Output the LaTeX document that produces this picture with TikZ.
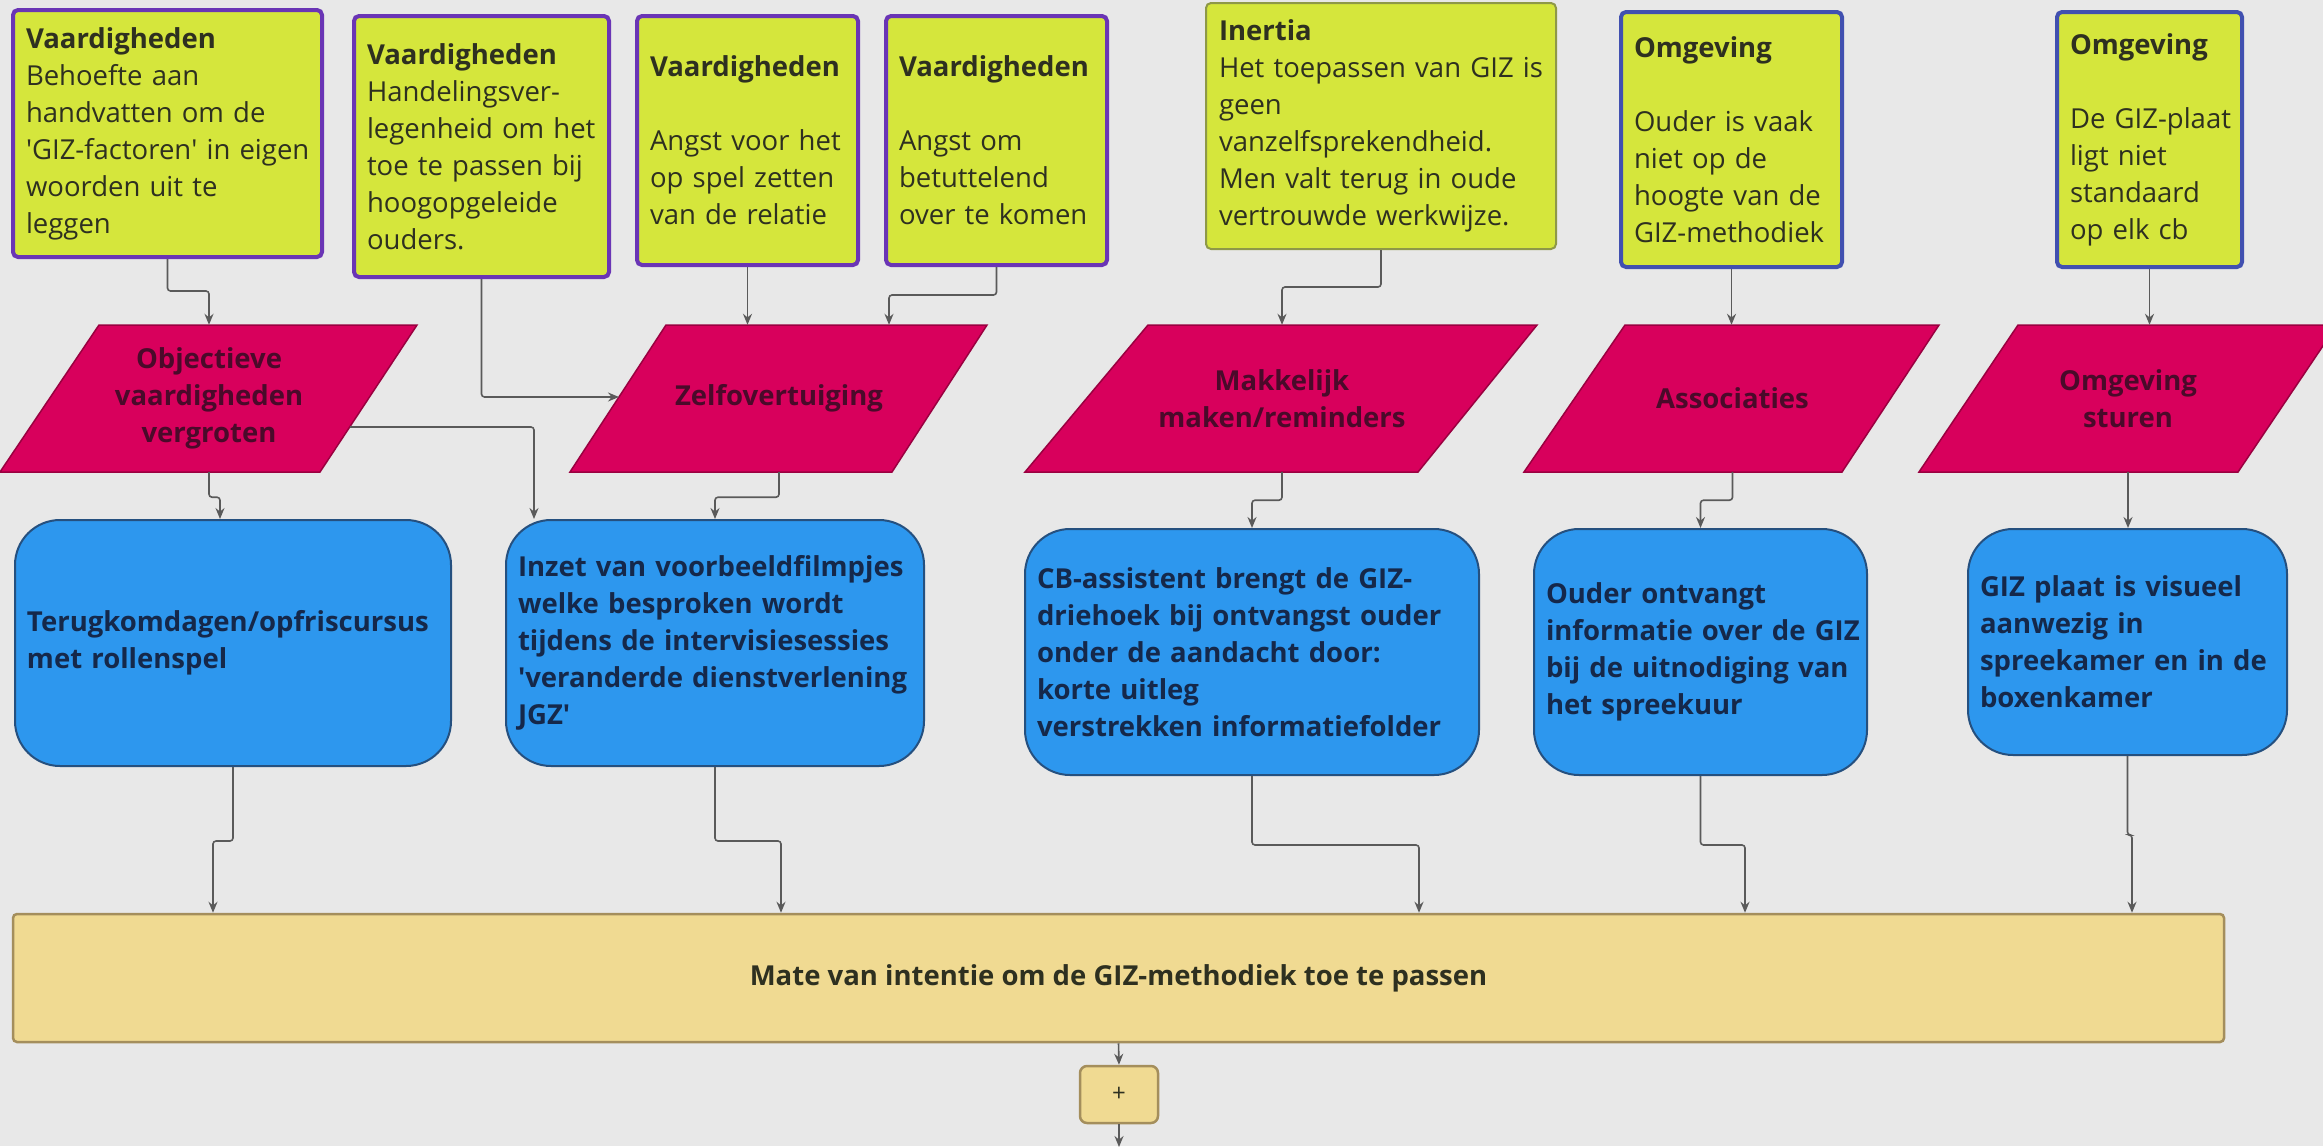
\documentclass[tikz,border=0pt]{standalone}
\usepackage{fontspec}
\setmainfont{Open Sans}
\usetikzlibrary{calc,arrows.meta}
\definecolor{bg}{HTML}{E8E8E8}
\definecolor{ylime}{HTML}{D5E63C}
\definecolor{vpurple}{HTML}{6A35B5}
\definecolor{oblue}{HTML}{4150B0}
\definecolor{iolive}{HTML}{8E9848}
\definecolor{ytext}{HTML}{2E3020}
\definecolor{pmag}{HTML}{D8005C}
\definecolor{pborder}{HTML}{9A0040}
\definecolor{ptext}{HTML}{4A0A2A}
\definecolor{bblue}{HTML}{2D97EE}
\definecolor{bborder}{HTML}{25507F}
\definecolor{btext}{HTML}{15284A}
\definecolor{khaki}{HTML}{F0DA92}
\definecolor{kborder}{HTML}{A48E5C}
\definecolor{arrc}{HTML}{5A5A5A}
\newcommand\myfs{\fontsize{27.5}{37}\selectfont\exhyphenpenalty=10000\hyphenpenalty=10000\relax}
\newcommand\sq{\textquotesingle}
\begin{document}
\begin{tikzpicture}[x=1pt,y=-1pt,
  ybox/.style={draw=vpurple, line width=4pt, fill=ylime, rounded corners=5pt,
    inner xsep=13pt, inner ysep=0pt, align=left, font=\myfs, text=ytext},
  obox/.style={ybox, draw=oblue},
  ibox/.style={ybox, draw=iolive, line width=2pt},
  bbox/.style={draw=bborder, line width=2pt, fill=bblue, rounded corners=45pt,
    inner xsep=12pt, inner ysep=0pt, align=left, font=\myfs\bfseries, text=btext},
  ptxt/.style={inner sep=0pt, minimum height=147pt, align=center, font=\myfs\bfseries, text=ptext},
  pshape/.style={fill=pmag, draw=pborder, line width=1.5pt},
  mbox/.style={draw=kborder, line width=2.5pt, fill=khaki, rounded corners=4pt,
    inner sep=0pt, font=\myfs\bfseries, text=ytext},
  plusbox/.style={mbox, rounded corners=7pt, font=\fontsize{24}{28}\selectfont},
  arr/.style={draw=arrc, line width=1.6pt, rounded corners=3pt,
    -{Stealth[length=11pt,width=9pt]}}
]
\clip (0,0) rectangle (2323,1146);
\fill[bg] (0,0) rectangle (2323,1146);

% top boxes
\node[ybox, minimum width=309pt, minimum height=247pt, text width=283pt] (v1) at (167.5,133.5)
  {\textbf{Vaardigheden}\\ Behoefte~aan\\ handvatten~om~de\\ \sq GIZ-factoren\sq~in~eigen\\ woorden~uit~te\\ leggen};
\node[ybox, minimum width=255pt, minimum height=261pt, text width=229pt] (v2) at (481.5,146.5)
  {\textbf{Vaardigheden}\\ Handelingsver-\\ legenheid~om~het\\ toe~te~passen~bij\\ hoogopgeleide\\ ouders.};
\node[ybox, minimum width=221pt, minimum height=249pt, text width=195pt] (v3) at (747.5,140.5)
  {\textbf{Vaardigheden}\\[37pt] Angst~voor~het\\ op~spel~zetten\\ van~de~relatie};
\node[ybox, minimum width=221pt, minimum height=249pt, text width=195pt] (v4) at (996.5,140.5)
  {\textbf{Vaardigheden}\\[37pt] Angst~om\\ betuttelend\\ over~te~komen};
\node[ibox, minimum width=350pt, minimum height=246pt, text width=324pt] (i1) at (1381,126)
  {\textbf{Inertia}\\ Het~toepassen~van~GIZ~is\\ geen\\ vanzelfsprekendheid.\\ Men~valt~terug~in~oude\\ vertrouwde~werkwijze.};
\node[obox, minimum width=221pt, minimum height=255pt, text width=195pt] (o1) at (1731.5,139.5)
  {\textbf{Omgeving}\\[37pt] Ouder~is~vaak\\ niet~op~de\\ hoogte~van~de\\ GIZ-methodiek};
\node[obox, minimum width=185pt, minimum height=255pt, text width=159pt] (o2) at (2149.5,139.5)
  {\textbf{Omgeving}\\[37pt] De~GIZ-plaat\\ ligt~niet\\ standaard\\ op~elk~cb};

% parallelograms
\draw[pshape] (99,325) -- (417,325) -- (320,472) -- (0,472) -- cycle;
\draw[pshape] (666,325) -- (987,325) -- (892,472) -- (570,472) -- cycle;
\draw[pshape] (1148,325) -- (1537,325) -- (1418,472) -- (1025,472) -- cycle;
\draw[pshape] (1625,325) -- (1939,325) -- (1842,472) -- (1524,472) -- cycle;
\draw[pshape] (2018,325) -- (2337,325) -- (2238,472) -- (1919,472) -- cycle;
\node[ptxt] (p1) at (209,398.5) {Objectieve\\ vaardigheden\\ vergroten};
\node[ptxt] (p2) at (779,398.5) {Zelfovertuiging};
\node[ptxt] (p3) at (1282,398.5) {Makkelijk\\ maken/reminders};
\node[ptxt] (p4) at (1732.5,398.5) {Associaties};
\node[ptxt] (p5) at (2128,398.5) {Omgeving\\ sturen};

% blue boxes
\node[bbox, minimum width=436pt, minimum height=246pt, text width=412pt] (b1) at (233,643)
  {Terugkomdagen/opfriscursus\\ met~rollenspel};
\node[bbox, minimum width=418pt, minimum height=246pt, text width=394pt] (b2) at (715,643)
  {Inzet~van~voorbeeldfilmpjes\\ welke~besproken~wordt\\ tijdens~de~intervisiesessies\\ \sq veranderde~dienstverlening\\ JGZ\sq};
\node[bbox, minimum width=454pt, minimum height=246pt, text width=430pt] (b3) at (1252,652)
  {CB-assistent~brengt~de~GIZ-\\ driehoek~bij~ontvangst~ouder\\ onder~de~aandacht~door:\\ korte~uitleg\\ verstrekken~informatiefolder};
\node[bbox, minimum width=333pt, minimum height=246pt, text width=309pt] (b4) at (1700.5,652)
  {Ouder~ontvangt\\ informatie~over~de~GIZ\\ bij~de~uitnodiging~van\\ het~spreekuur};
\node[bbox, minimum width=319pt, minimum height=226pt, text width=295pt] (b5) at (2127.5,642)
  {GIZ~plaat~is~visueel\\ aanwezig~in\\ spreekamer~en~in~de\\ boxenkamer};

% bottom
\node[mbox, minimum width=2211pt, minimum height=128pt] (m) at (1118.5,978)
  {Mate van intentie om de GIZ-methodiek toe te passen};
\node[plusbox, minimum width=78pt, minimum height=57pt] (plus) at (1119,1094.5) {+};
\coordinate (out) at (1119,1147);

% connectors
\draw[arr] (v1.south) -- ++(0,32) -| (p1.north);
\draw[arr] (v2.south) |- ($(p2.center)+(-160,-1.5)$);
\draw[arr] (v3.south) -- (v3.south |- p2.north);
\draw[arr] (v4.south) -- ++(0,28) -| ($(p2.north)+(110,0)$);
\draw[arr] (i1.south) -- ++(0,37) -| (p3.north);
\draw[arr] (o1.south) -- (o1.south |- p4.north);
\draw[arr] (o2.south) -- (o2.south |- p5.north);
\draw[arr] (p1.south) -- ++(0,25) -| ($(b1.north)+(-13,0)$);
\draw[arr] ($(p1.center)+(141,28.5)$) -| ($(b2.north)+(-181,0)$);
\draw[arr] (p2.south) -- ++(0,25) -| (b2.north);
\draw[arr] (p3.south) -- ++(0,28) -| (b3.north);
\draw[arr] (p4.south) -- ++(0,28) -| (b4.north);
\draw[arr] (p5.south) -- (p5.south |- b5.north);
\draw[arr] (b1.south) -- ++(0,74) -| ($(m.north)+(-905.5,0)$);
\draw[arr] (b2.south) -- ++(0,74) -| ($(m.north)+(-337.5,0)$);
\draw[arr] (b3.south) -- ++(0,69) -| ($(m.north)+(300.5,0)$);
\draw[arr] (b4.south) -- ++(0,69) -| ($(m.north)+(626.5,0)$);
\draw[arr] (b5.south) -- ++(0,79) -| ($(m.north)+(1013.5,0)$);
\draw[arr] (m.south) -- (plus.north);
\draw[arr] (plus.south) -- (out);
\end{tikzpicture}
\end{document}
